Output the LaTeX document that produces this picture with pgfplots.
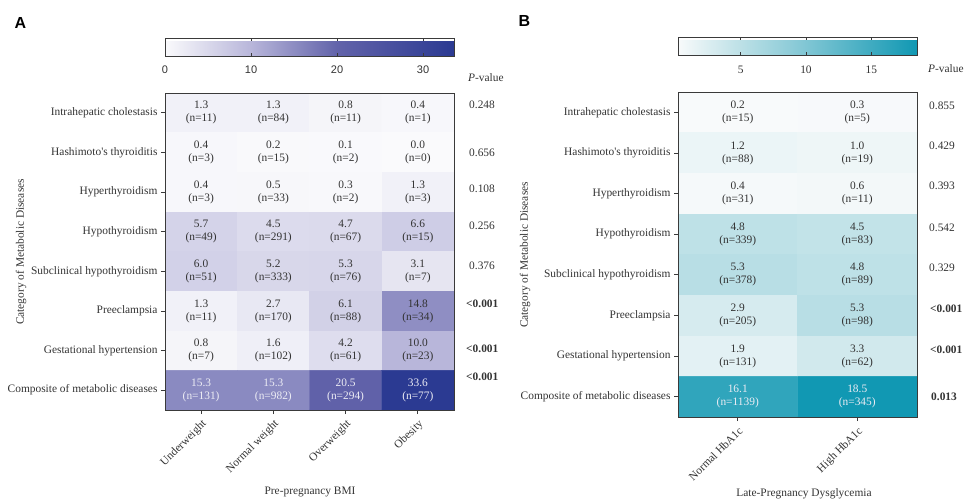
\documentclass[border=0pt]{standalone}
\usepackage{fontspec}
\setmainfont{Liberation Serif}
\newfontfamily\sansf{Liberation Sans}
\usepackage{pgfplots}
\usepackage{pgfplotstable}
\pgfplotsset{compat=1.18}
\definecolor{txt}{HTML}{333333}
\definecolor{txtw}{HTML}{ECECF4}
\definecolor{frame}{HTML}{3A3A3A}
\pgfplotsset{colormap={bmi}{rgb255(0cm)=(250,250,252) rgb255(10cm)=(184,182,218) rgb255(20cm)=(98,99,170) rgb255(33.6cm)=(43,58,146)}}
\pgfplotsset{colormap={hba}{rgb255(0.2cm)=(248,250,251) rgb255(5cm)=(188,224,230) rgb255(10cm)=(128,198,212) rgb255(18.5cm)=(17,152,179)}}
\newcommand\cellfont{\fontsize{11.4}{13}\selectfont}

\pgfplotstableread{
x y v lab
0 0 1.3 {1.3\\(n=11)}
1 0 1.3 {1.3\\(n=84)}
2 0 0.8 {0.8\\(n=11)}
3 0 0.4 {0.4\\(n=1)}
0 1 0.4 {0.4\\(n=3)}
1 1 0.2 {0.2\\(n=15)}
2 1 0.1 {0.1\\(n=2)}
3 1 0.0 {0.0\\(n=0)}
0 2 0.4 {0.4\\(n=3)}
1 2 0.5 {0.5\\(n=33)}
2 2 0.3 {0.3\\(n=2)}
3 2 1.3 {1.3\\(n=3)}
0 3 5.7 {5.7\\(n=49)}
1 3 4.5 {4.5\\(n=291)}
2 3 4.7 {4.7\\(n=67)}
3 3 6.6 {6.6\\(n=15)}
0 4 6.0 {6.0\\(n=51)}
1 4 5.2 {5.2\\(n=333)}
2 4 5.3 {5.3\\(n=76)}
3 4 3.1 {3.1\\(n=7)}
0 5 1.3 {1.3\\(n=11)}
1 5 2.7 {2.7\\(n=170)}
2 5 6.1 {6.1\\(n=88)}
3 5 14.8 {14.8\\(n=34)}
0 6 0.8 {0.8\\(n=7)}
1 6 1.6 {1.6\\(n=102)}
2 6 4.2 {4.2\\(n=61)}
3 6 10.0 {10.0\\(n=23)}
0 7 15.3 {15.3\\(n=131)}
1 7 15.3 {15.3\\(n=982)}
2 7 20.5 {20.5\\(n=294)}
3 7 33.6 {33.6\\(n=77)}
}\dataA

\pgfplotstableread{
x y v lab
0 0 0.2 {0.2\\(n=15)}
1 0 0.3 {0.3\\(n=5)}
0 1 1.2 {1.2\\(n=88)}
1 1 1.0 {1.0\\(n=19)}
0 2 0.4 {0.4\\(n=31)}
1 2 0.6 {0.6\\(n=11)}
0 3 4.8 {4.8\\(n=339)}
1 3 4.5 {4.5\\(n=83)}
0 4 5.3 {5.3\\(n=378)}
1 4 4.8 {4.8\\(n=89)}
0 5 2.9 {2.9\\(n=205)}
1 5 5.3 {5.3\\(n=98)}
0 6 1.9 {1.9\\(n=131)}
1 6 3.3 {3.3\\(n=62)}
0 7 16.1 {16.1\\(n=1139)}
1 7 18.5 {18.5\\(n=345)}
}\dataB

\pgfplotsset{
  hm/.style={
    anchor=south west, scale only axis, axis on top,
    ymin=-0.5, ymax=7.5, y dir=reverse,
    ytick={0,...,7},
    yticklabels={Intrahepatic cholestasis, Hashimoto\textquotesingle s thyroiditis, Hyperthyroidism, Hypothyroidism, Subclinical hypothyroidism, Preeclampsia, Gestational hypertension, Composite of metabolic diseases},
    tick align=outside, xtick pos=bottom, ytick pos=left, major tick length=4pt,
    axis line style={frame, line width=0.9pt}, tick style={frame, line width=0.8pt},
    xticklabel style={rotate=45, anchor=north east, font=\cellfont, text=txt},
    yticklabel style={font=\cellfont, text=txt},
    colorbar horizontal,
  },
  cb/.style={
    anchor=south west, scale only axis, height=18pt,
    xticklabel pos=lower, xtick pos=both, tick align=inside, major tick length=3pt,
    axis line style={frame, line width=0.8pt}, tick style={frame, line width=0.8pt},
    /pgf/number format/assume math mode=true,
  },
  labs/.style={
    only marks, mark=*, mark size=0pt, mark options={draw=none, fill=none},
    point meta=explicit symbolic,
    nodes near coords,
    every node near coord/.append style={anchor=center, align=center, font=\cellfont, text=#1, inner sep=0pt},
  },
}

\begin{document}
\begin{tikzpicture}[x=1pt,y=1pt]
\path[use as bounding box] (0,0) rectangle (964,499);

% Panel A
\begin{axis}[hm,
  at={(165pt,89pt)}, width=289pt, height=317pt,
  xmin=-0.5, xmax=3.5,
  xtick={0,1,2,3}, xticklabels={Underweight, Normal weight, Overweight, Obesity},
  colormap name=bmi, point meta min=0, point meta max=33.6,
  colorbar style={cb, at={(0,1.1167)}, width=289pt, xtick={0,10,20,30},
    xticklabel style={font=\sansf\fontsize{11}{13}\selectfont, text=txt, yshift=-6pt}},
]
\addplot[matrix plot*, mesh/cols=4, point meta=explicit] table[x=x,y=y,meta=v]{\dataA};
\addplot[labs=txt, restrict y to domain=-1:6.5] table[x=x,y=y,meta=lab]{\dataA};
\addplot[labs=txtw, restrict y to domain=6.5:8] table[x=x,y=y,meta=lab]{\dataA};
\end{axis}

% Panel B
\begin{axis}[hm,
  at={(678pt,82pt)}, width=239pt, height=325pt,
  xmin=-0.5, xmax=1.5,
  xtick={0,1}, xticklabels={Normal HbA1c, High HbA1c},
  colormap name=hba, point meta min=0.2, point meta max=18.5,
  colorbar style={cb, at={(0,1.1138)}, width=239pt, xtick={5,10,15},
    xticklabel style={font=\fontsize{11.4}{13}\selectfont, text=txt, yshift=-7pt}},
]
\addplot[matrix plot*, mesh/cols=2, point meta=explicit] table[x=x,y=y,meta=v]{\dataB};
\addplot[labs=txt, restrict y to domain=-1:6.5] table[x=x,y=y,meta=lab]{\dataB};
\addplot[labs=txtw, restrict y to domain=6.5:8] table[x=x,y=y,meta=lab]{\dataB};
\end{axis}

% Panel letters
\node[anchor=west, font=\sansf\bfseries\fontsize{16}{18}\selectfont] at (11,476) {A};
\node[anchor=west, font=\sansf\bfseries\fontsize{16}{18}\selectfont] at (515,478) {B};

% axis titles
\node[rotate=90, font=\cellfont, text=txt] at (21,247) {Category of Metabolic Diseases};
\node[rotate=90, font=\cellfont, text=txt] at (525,244) {Category of Metabolic Diseases};
\node[font=\cellfont, text=txt] at (310,7) {Pre-pregnancy BMI};
\node[font=\cellfont, text=txt] at (804,5) {Late-Pregnancy Dysglycemia};

% P-values
\begin{scope}[every node/.style={anchor=west, font=\cellfont, text=txt, inner sep=0pt}]
\node at (468,421) {\textit{P}-value};
\node at (469,394) {0.248};
\node at (469,346) {0.656};
\node at (469,310) {0.108};
\node at (469,273) {0.256};
\node at (469,233) {0.376};
\node at (466,195) {\textbf{<0.001}};
\node at (466,150) {\textbf{<0.001}};
\node at (466,122) {\textbf{<0.001}};
\node at (928,430) {\textit{P}-value};
\node at (929,393) {0.855};
\node at (929,353) {0.429};
\node at (929,313) {0.393};
\node at (929,271) {0.542};
\node at (929,231) {0.329};
\node at (930,190) {\textbf{<0.001}};
\node at (930,149) {\textbf{<0.001}};
\node at (931,102) {\textbf{0.013}};
\end{scope}
\end{tikzpicture}
\end{document}
